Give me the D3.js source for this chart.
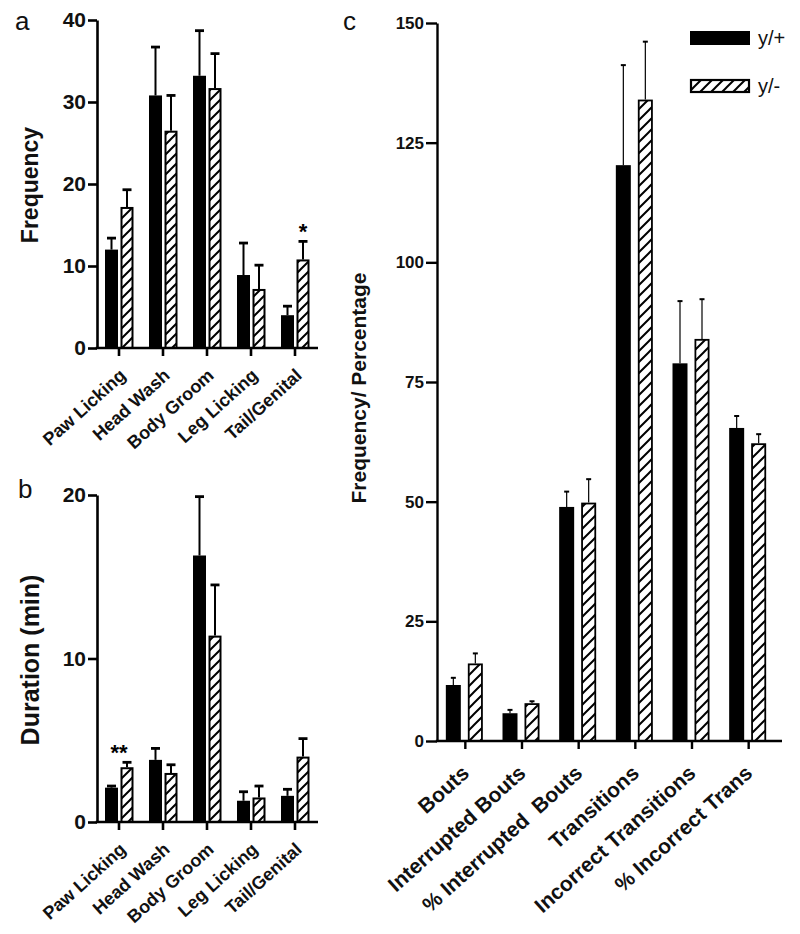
<!DOCTYPE html>
<html><head><meta charset="utf-8">
<script src="https://cdn.jsdelivr.net/npm/d3@7/dist/d3.min.js"></script>
<style>
body{margin:0;background:#fff;}
text{font-family:"Liberation Sans",Arial,sans-serif;}
</style></head>
<body>
<svg id="chart" width="800" height="934"></svg>
<script>
// ---------- data ----------
const groups = ["y/+", "y/-"];
const catsAB = ["Paw Licking", "Head Wash", "Body Groom", "Leg Licking", "Tail/Genital"];
const freqWT = [12.0, 30.8, 33.2, 8.9, 4.0];
const freqWTerr = [1.4, 5.9, 5.5, 3.9, 1.1];
const freqKO = [17.2, 26.5, 31.7, 7.2, 10.8];
const freqKOerr = [2.1, 4.3, 4.2, 2.9, 2.2];
const durWT = [2.1, 3.8, 16.3, 1.3, 1.6];
const durWTerr = [0.1, 0.7, 3.6, 0.55, 0.4];
const durKO = [3.35, 3.0, 11.4, 1.5, 4.0];
const durKOerr = [0.3, 0.5, 3.1, 0.7, 1.1];
const catsC = ["Bouts", "Interrupted Bouts", "% Interrupted  Bouts", "Transitions", "Incorrect Transitions", "% Incorrect Trans"];
const cWT = [11.7, 5.8, 48.9, 120.3, 78.9, 65.4];
const cWTerr = [1.5, 0.7, 3.2, 20.9, 13.0, 2.5];
const cKO = [16.2, 7.9, 49.8, 134.0, 84.0, 62.2];
const cKOerr = [2.1, 0.4, 4.9, 12.1, 8.3, 1.9];
const ticksA = [0, 10, 20, 30, 40];
const ticksB = [0, 10, 20];
const ticksC = [0, 25, 50, 75, 100, 125, 150];
const starsA = ["", "", "", "", "*"];
const starsB = ["**", "", "", "", ""];

const svg = d3.select("#chart");
const FONT = '"Liberation Sans",Arial,sans-serif';

// hatch patterns
const defs = svg.append("defs");
function hatch(id, size, sw) {
  const p = defs.append("pattern").attr("id", id).attr("patternUnits", "userSpaceOnUse")
    .attr("width", size).attr("height", size);
  p.append("rect").attr("width", size).attr("height", size).attr("fill", "#fff");
  p.append("path").attr("d", `M0,${size} L${size},0 M${-size/2},${size/2} L${size/2},${-size/2} M${size/2},${size*1.5} L${size*1.5},${size/2}`)
    .attr("stroke", "#000").attr("stroke-width", sw);
}
hatch("hatchAB", 10, 2);
hatch("hatchC", 11, 2);

function panel(opt) {
  const g = svg.append("g");
  const x = d3.scaleBand().domain(opt.cats).range([opt.x0, opt.x1]);
  const y = d3.scaleLinear().domain([0, opt.max]).range([opt.yb, opt.yt]);
  const cx = c => x(c) + x.bandwidth() / 2;

  opt.cats.forEach((c, i) => {
    const c0 = cx(c);
    const bx = c0 + opt.bOff;
    g.append("rect").attr("x", bx).attr("y", y(opt.wt[i])).attr("width", opt.bw)
      .attr("height", y(0) - y(opt.wt[i])).attr("fill", "#000");
    const bxm = bx + opt.bw / 2;
    g.append("line").attr("x1", bxm).attr("x2", bxm).attr("y1", y(opt.wt[i])).attr("y2", y(opt.wt[i] + opt.wtE[i]))
      .attr("stroke", "#000").attr("stroke-width", opt.ew);
    g.append("line").attr("x1", bxm - opt.cap).attr("x2", bxm + opt.cap).attr("y1", y(opt.wt[i] + opt.wtE[i])).attr("y2", y(opt.wt[i] + opt.wtE[i]))
      .attr("stroke", "#000").attr("stroke-width", opt.ew + 0.8);
    const hx = c0 + opt.hOff;
    const hxm = hx + opt.bw / 2;
    g.append("line").attr("x1", hxm).attr("x2", hxm).attr("y1", y(opt.ko[i])).attr("y2", y(opt.ko[i] + opt.koE[i]))
      .attr("stroke", "#000").attr("stroke-width", opt.ew);
    g.append("line").attr("x1", hxm - opt.cap).attr("x2", hxm + opt.cap).attr("y1", y(opt.ko[i] + opt.koE[i])).attr("y2", y(opt.ko[i] + opt.koE[i]))
      .attr("stroke", "#000").attr("stroke-width", opt.ew + 0.8);
    g.append("rect").attr("x", hx + opt.osw / 2).attr("y", y(opt.ko[i]) + opt.osw / 2).attr("width", opt.bw - opt.osw)
      .attr("height", Math.max(0, y(0) - y(opt.ko[i]) - opt.osw / 2)).attr("fill", `url(#${opt.pat})`)
      .attr("stroke", "#000").attr("stroke-width", opt.osw);
    if (opt.stars && opt.stars[i]) {
      g.append("text").attr("x", hxm - (opt.stars[i].length > 1 ? 8 : 0)).attr("y", y(opt.ko[i] + opt.koE[i]) - 2)
        .attr("text-anchor", "middle").attr("font-size", 22).attr("font-weight", "bold").text(opt.stars[i]);
    }
  });

  // y axis
  const ya = g.append("g").attr("transform", `translate(${opt.x0},0)`)
    .call(d3.axisLeft(y).tickValues(opt.ticks).tickSize(opt.tickLen).tickSizeOuter(0).tickPadding(2));
  ya.select(".domain").attr("stroke-width", opt.aw);
  ya.selectAll(".tick line").attr("stroke-width", opt.aw);
  ya.selectAll("text").attr("font-size", opt.tfs).attr("font-weight", "bold").attr("font-family", FONT).attr("fill", "#111");

  // x axis
  const xa = g.append("g").attr("transform", `translate(0,${opt.yb})`)
    .call(d3.axisBottom(x).tickSize(opt.xTick).tickSizeOuter(0).tickFormat(""));
  xa.select(".domain").remove();
  xa.selectAll(".tick line").attr("stroke-width", opt.aw);
  g.append("line").attr("x1", opt.x0 - opt.aw / 2).attr("x2", opt.xEnd).attr("y1", opt.yb).attr("y2", opt.yb)
    .attr("stroke", "#000").attr("stroke-width", opt.aw);

  // category labels
  opt.cats.forEach(c => {
    g.append("text").attr("transform", `translate(${cx(c) + opt.lx},${opt.yb + opt.ly}) rotate(${opt.rot})`)
      .attr("text-anchor", "end").attr("font-size", opt.lfs).attr("font-weight", "bold")
      .style("white-space", "pre").attr("fill", "#111").text(c);
  });

  // y label
  g.append("text").attr("transform", `translate(${opt.ylx},${(opt.yLabelCy)}) rotate(-90)`)
    .attr("text-anchor", "middle").attr("font-size", opt.ylfs).attr("font-weight", "bold").attr("fill", "#111")
    .text(opt.ylabel);

  // panel letter
  g.append("text").attr("x", opt.letX).attr("y", opt.letY).attr("font-size", 26).attr("fill", "#111").text(opt.letter);
}

const commonAB = { x0: 97, x1: 317, xEnd: 318, bOff: -14, hOff: 1.5, bw: 13, osw: 2, ew: 2, cap: 4.5, aw: 2.6,
  tickLen: 9, xTick: 8, tfs: 21, lfs: 18, rot: -42, lx: 8, ly: 29, pat: "hatchAB" };

panel(Object.assign({}, commonAB, { cats: catsAB, wt: freqWT, wtE: freqWTerr, ko: freqKO, koE: freqKOerr,
  max: 40, yb: 348, yt: 20, ticks: ticksA, ylabel: "Frequency", yLabelCy: 185, ylx: 38, ylfs: 23,
  letter: "a", letX: 15, letY: 30, stars: starsA }));
panel(Object.assign({}, commonAB, { cats: catsAB, wt: durWT, wtE: durWTerr, ko: durKO, koE: durKOerr,
  max: 20, yb: 822, yt: 495, ticks: ticksB, ylabel: "Duration (min)", yLabelCy: 660, ylx: 39, ylfs: 25,
  letter: "b", letX: 18, letY: 498, stars: starsB }));
panel({ cats: catsC, wt: cWT, wtE: cWTerr, ko: cKO, koE: cKOerr, max: 150, yb: 741, yt: 23,
  x0: 437, x1: 777, xEnd: 782, bOff: -19.5, hOff: 2.5, bw: 15, osw: 1.8, ew: 1.2, cap: 2.5, aw: 2.4,
  tickLen: 11, xTick: 8, tfs: 17, lfs: 21, rot: -42, lx: 5, ly: 34, ylx: 366, ylfs: 21, pat: "hatchC",
  ticks: ticksC, ylabel: "Frequency/ Percentage", yLabelCy: 388, letter: "c", letX: 343, letY: 30 });

// legend
const leg = svg.append("g");
const lx = 690, ly = [31, 79];
groups.forEach((gname, i) => {
  if (i === 0) leg.append("rect").attr("x", lx).attr("y", ly[i]).attr("width", 60).attr("height", 14).attr("fill", "#000");
  else leg.append("rect").attr("x", lx + 1).attr("y", ly[i] + 1).attr("width", 58).attr("height", 12)
    .attr("fill", "url(#hatchC)").attr("stroke", "#000").attr("stroke-width", 2.2);
  leg.append("text").attr("x", lx + 68).attr("y", ly[i] + 14).attr("font-size", 20).attr("fill", "#111").text(gname);
});
</script>
</body></html>
